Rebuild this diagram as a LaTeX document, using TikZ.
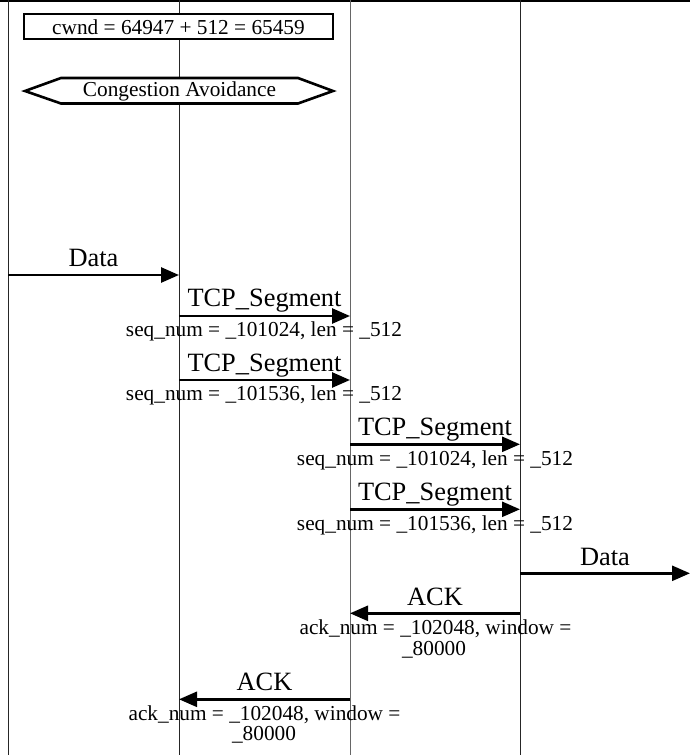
\documentclass[tikz,border=0pt]{standalone}
\usepackage{fontspec}
\setmainfont{Liberation Serif}
\usetikzlibrary{arrows.meta}
\begin{document}
\begin{tikzpicture}[x=1pt,y=-1pt,
  lifeline/.style={draw=black!85,line width=1pt},
  msg/.style={draw=black,line width=2.6pt,-{Triangle[length=18pt,width=15pt]}},
  bigl/.style={font=\fontsize{26.4}{26.4}\selectfont,inner sep=0pt,anchor=base},
  smalll/.style={font=\fontsize{21.3}{21.3}\selectfont,inner sep=0pt,anchor=base},
  framebox/.style={draw=black,line width=2.6pt}]
\useasboundingbox (0,0) rectangle (690,755);
% top rule
\draw[line width=2.5pt] (0,1) -- (690,1);
% lifelines
\coordinate (L1t) at (8,0);   \coordinate (L1b) at (8,755);
\coordinate (L2t) at (179,0); \coordinate (L2b) at (179,755);
\coordinate (L3t) at (350,0); \coordinate (L3b) at (350,755);
\coordinate (L4t) at (520,0); \coordinate (L4b) at (520,755);
\draw[lifeline] (L1t) -- (L1b);
\draw[lifeline] (L2t) -- (L2b);
\draw[lifeline,draw=black!60] (L3t) -- (L3b);
\draw[lifeline] (L4t) -- (L4b);
% cwnd box
\draw[framebox,fill=white] (24,14) rectangle (333,39);
\node[smalll] (cwnd) at (178.5,34) {cwnd = 64947 + 512 = 65459};
% hexagon
\draw[framebox,fill=white] (25,91) -- (61,78) -- (298,78) -- (333,91) -- (298,103.5) -- (61,103.5) -- cycle;
\node[smalll] (ca) at (179.5,96) {Congestion Avoidance};
% Data 1
\coordinate (d1a) at (8,275); \coordinate (d1b) at (179,275);
\draw[msg] (d1a) -- (d1b);
\node[bigl] (d1l) at (93.5,266.7) {Data};
% TCP segment 1
\coordinate (s1a) at (179,316); \coordinate (s1b) at (350,316);
\draw[msg] (s1a) -- (s1b);
\node[bigl] (s1l) at (264.5,306.7) {TCP\_Segment};
\node[smalll] (s1m) at (264,336) {seq\_num = \_101024, len = \_512};
% TCP segment 2
\coordinate (s2a) at (179,380); \coordinate (s2b) at (350,380);
\draw[msg] (s2a) -- (s2b);
\node[bigl] (s2l) at (264.5,371) {TCP\_Segment};
\node[smalll] (s2m) at (264,400) {seq\_num = \_101536, len = \_512};
% TCP segment 3
\coordinate (s3a) at (350,444.3); \coordinate (s3b) at (520,444.3);
\draw[msg] (s3a) -- (s3b);
\node[bigl] (s3l) at (435,435) {TCP\_Segment};
\node[smalll] (s3m) at (435,465) {seq\_num = \_101024, len = \_512};
% TCP segment 4
\coordinate (s4a) at (350,509.3); \coordinate (s4b) at (520,509.3);
\draw[msg] (s4a) -- (s4b);
\node[bigl] (s4l) at (435,500) {TCP\_Segment};
\node[smalll] (s4m) at (435,530) {seq\_num = \_101536, len = \_512};
% Data 2
\coordinate (d2a) at (520,573.3); \coordinate (d2b) at (690,573.3);
\draw[msg] (d2a) -- (d2b);
\node[bigl] (d2l) at (605,565) {Data};
% ACK 1
\coordinate (a1a) at (520,613.3); \coordinate (a1b) at (350,613.3);
\draw[msg] (a1a) -- (a1b);
\node[bigl] (a1l) at (435,605) {ACK};
\node[smalll] (a1m) at (435.5,634) {ack\_num = \_102048, window =};
\node[smalll] (a1n) at (434,655) {\_80000};
% ACK 2
\coordinate (a2a) at (350,699.3); \coordinate (a2b) at (179,699.3);
\draw[msg] (a2a) -- (a2b);
\node[bigl] (a2l) at (264.5,690) {ACK};
\node[smalll] (a2m) at (264.5,720) {ack\_num = \_102048, window =};
\node[smalll] (a2n) at (264,740) {\_80000};
\end{tikzpicture}
\end{document}
